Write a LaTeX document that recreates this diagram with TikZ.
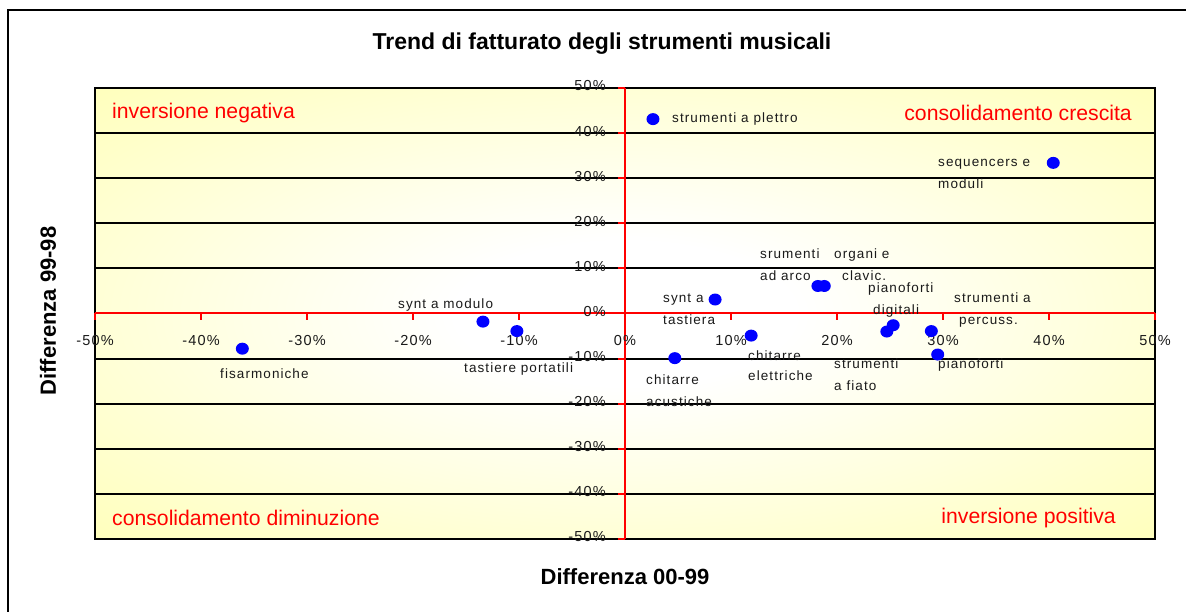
\documentclass[tikz,border=0pt]{standalone}
\usepackage{fontspec}
\setmainfont{Liberation Sans}
\newfontfamily\lblfont[LetterSpace=8]{Liberation Sans}
\usetikzlibrary{shapes.geometric}
\definecolor{plotyellow}{HTML}{FFFF99}
\definecolor{lblgray}{HTML}{1A1A1A}
\pgfdeclareradialshading{plotbg}{\pgfpoint{0bp}{0bp}}{color(0bp)=(white); color(8bp)=(white); color(50bp)=(plotyellow)}

\begin{document}
\begin{tikzpicture}[x = 1pt, y = -1pt,
    frame/.style = {draw, line width = 2.5pt},
    plotbox/.style = {draw, line width = 2.5pt},
    grid/.style = {line width = 2pt},
    ax/.style = {red, line width = 2pt},
    dot/.style = {ellipse, fill = blue, inner sep = 0pt, minimum width = 13pt, minimum height = 12pt},
    lbl/.style = {anchor = west, inner sep = 0pt, text = lblgray, font = \lblfont\fontsize{13.5}{16}\selectfont, text height = 10pt, text depth = 3pt},
    ticklbl/.style = {inner sep = 0pt, text = lblgray, font = \lblfont\fontsize{14.5}{17}\selectfont},
    quad/.style = {inner sep = 0pt, text = red, font = \fontsize{21.2}{25}\selectfont},
    ttl/.style = {inner sep = 0pt, font = \bfseries\fontsize{22}{26}\selectfont}]
      \useasboundingbox (0, 0) rectangle (1186, 612);
      \clip (0, 0) rectangle (1186, 612);
      \draw [frame] (8, 10) rectangle (1200, 625);

      \node [ttl, font = \bfseries\fontsize{23}{27}\selectfont] (title) at (602, 44) {Trend di fatturato degli strumenti musicali};
      \node [ttl] (xtitle) at (625, 577) {Differenza 00-99};
      \node [ttl, rotate = 90] (ytitle) at (48, 311) {Differenza 99-98};

      \shade [shading = plotbg] (95, 88) rectangle (1155, 539);

      % plot area, one unit = 1%
      \begin{scope}[shift = {(625, 313.5)}, x = 10.6pt, y = 4.51pt]
        \foreach \v in {-50, -40, ..., 50} {
          \draw [grid] (-50, \v) -- (50, \v);
        }
        \draw [plotbox] (-50, -50) rectangle (50, 50);
        \draw [ax] (-50, 0) -- (50, 0);
        \draw [ax] (0, -50) -- (0, 50);
        \foreach \v in {-50, -40, ..., 50} {
          \draw [ax] (\v, 0) -- ++(0pt, -7pt);
          \draw [ax] (0, \v) -- ++(-7pt, 0pt);
          \node [ticklbl, yshift = -27pt] (xt\v) at (\v, 0) {\v\%};
          \node [ticklbl, anchor = east, xshift = -19pt, yshift = 2pt] (yt\v) at (0, \v) {\v\%};
        }

        \foreach \n/\x/\y in {plettro/2.64/43.1, seq/40.4/33.4, arco/18.2/6.1, organi/18.8/6.1,
            syntast/8.5/3.1, chelet/11.9/-4.9, chacu/4.7/-9.9, piadig/25.3/-2.6, fiato/24.7/-4.0,
            percuss/28.9/-3.9, piano/29.5/-9.1, syntmod/-13.4/-1.8, tastport/-10.2/-3.9, fisarm/-36.1/-7.8} {
          \node [dot] (\n) at (\x, \y) {};
        }
      \end{scope}

      \node [quad, anchor = west] (qnw) at (112, 113) {inversione negativa};
      \node [quad, anchor = east] (qne) at (1132, 113) {consolidamento crescita};
      \node [quad, anchor = west] (qsw) at (112, 518) {consolidamento diminuzione};
      \node [quad, anchor = east] (qse) at (1116, 518) {inversione positiva};

      \node [lbl] (lplettro) at (672, 119) {strumenti a plettro};
      \node [lbl] (lseq1) at (938, 163) {sequencers e};
      \node [lbl] (lseq2) at (938, 185) {moduli};
      \node [lbl] (larco1) at (760, 255) {srumenti};
      \node [lbl] (larco2) at (760, 277) {ad arco};
      \node [lbl] (lorg1) at (834, 255) {organi e};
      \node [lbl] (lorg2) at (842, 277) {clavic.};
      \node [lbl] (lpd1) at (868, 289) {pianoforti};
      \node [lbl] (lpd2) at (873, 311) {digitali};
      \node [lbl] (lperc1) at (954, 299) {strumenti a};
      \node [lbl] (lperc2) at (959, 321) {percuss.};
      \node [lbl] (lst1) at (663, 299) {synt a};
      \node [lbl] (lst2) at (663, 321) {tastiera};
      \node [lbl] (lche1) at (748, 357) {chitarre};
      \node [lbl] (lche2) at (748, 377) {elettriche};
      \node [lbl] (lcha1) at (646, 381) {chitarre};
      \node [lbl] (lcha2) at (646, 403) {acustiche};
      \node [lbl] (lfia1) at (834, 365) {strumenti};
      \node [lbl] (lfia2) at (834, 387) {a fiato};
      \node [lbl] (lpiano) at (938, 365) {pianoforti};
      \node [lbl] (lsm) at (398, 305) {synt a modulo};
      \node [lbl] (ltp) at (464, 369) {tastiere portatili};
      \node [lbl] (lfis) at (220, 375) {fisarmoniche};
\end{tikzpicture}
\end{document}
